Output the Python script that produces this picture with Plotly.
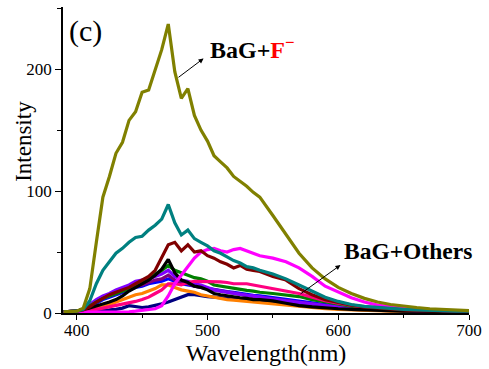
import plotly.graph_objects as go

wl = [390, 395, 400, 405, 410, 415, 420, 425, 430, 435, 440, 445, 450, 455, 460,
      465, 470, 475, 480, 485, 490, 495, 500, 505, 510, 515, 520, 525, 530, 535,
      540, 550, 560, 570, 580, 590, 600, 610, 620, 630, 640, 650, 660, 670, 680,
      690, 700]

bag_f = [1, 1, 1.5, 4, 20, 58, 95, 112, 131, 140, 158, 165, 181, 183, 199,
         216, 237, 198, 176, 184, 162, 150, 141, 129, 124, 119, 112, 108, 104, 99,
         95, 80, 65, 49, 37, 28, 21, 16, 12, 9, 7, 5.5, 4.5, 3.5, 3,
         2.5, 2]
teal = [1, 1, 1.5, 3, 10, 24, 35, 42, 49, 53, 58, 62, 63, 68, 72,
        77, 89, 74, 64, 68, 61, 58, 55, 51, 49, 46, 43, 41, 38, 37,
        35, 32, 28, 23, 18, 13, 9.5, 7, 5.5, 4.5, 3.5, 3, 2.5, 2, 2,
        1.5, 1.5]
maroon = [1, 1, 1.5, 2.5, 5, 9, 12, 15, 17, 19, 21, 24, 27, 30, 35,
          45, 56, 58, 51, 56, 50, 51, 47, 45, 42, 40, 37, 39, 36, 35,
          34, 30, 27, 20, 15, 11, 8.5, 6.5, 5, 4, 3, 2.5, 2, 2, 1.5,
          1.5, 1.5]
magenta = [0.5, 0.5, 0.5, 0.5, 0.5, 0.5, 0.5, 0.5, 0.8, 1, 1, 1.5, 2, 2.5, 3.5,
           6, 14, 24, 31, 37, 45, 50, 52, 53, 51, 50, 52, 53, 51, 49,
           47, 45, 42, 37, 30, 22, 17, 12.5, 9, 6.5, 5, 4, 3, 2.5, 2,
           2, 1.5]
pink = [0.5, 0.5, 1, 1.5, 2, 3, 4, 5, 6, 7, 8, 9.5, 11, 13, 16,
        19, 24, 24, 23, 25, 26, 26, 26, 26, 25.5, 25, 24, 24, 24, 23,
        22, 20, 18, 16, 13, 10, 8, 6, 4.5, 3.5, 3, 2.5, 2, 2, 1.5,
        1.5, 1.5]
green = [1, 1, 1.5, 3, 6, 9, 12, 14, 16, 18, 20, 22, 25, 28, 32,
         35, 39, 35, 33, 31, 29, 28, 26, 23, 22, 21, 20, 19, 18.5, 18,
         17, 16, 14.5, 13.5, 11, 9, 7, 5.5, 4, 3.5, 3, 2.5, 2, 2, 1.5,
         1.5, 1.5]
black = [1, 1, 1.5, 2.5, 4, 6, 7.5, 9, 11, 14, 18, 21, 24, 27, 31,
         36, 44, 33, 27, 25, 22, 21, 19, 16, 15, 14, 13, 12.5, 12, 11,
         11, 10, 8, 6, 5, 4, 3.5, 3, 2.5, 2, 2, 1.5, 1.5, 1.5, 1,
         1, 1]
violet = [1, 1, 1.5, 3, 7, 11, 14, 16, 19, 21, 23, 26, 27, 28, 30,
          32, 35, 30, 27, 26, 24, 23, 21, 19, 18, 17, 16, 15, 14.5, 14,
          13, 11.5, 10, 9, 7.5, 6, 5, 4, 3.5, 3, 2.5, 2, 2, 1.5, 1.5,
          1.5, 1.5]
purple = [1, 1, 1.5, 3, 6, 9, 12, 14, 16, 18, 20, 22, 23, 25, 27,
          28, 31, 27, 25, 24, 22, 21, 20, 19, 18, 17, 16, 15, 14, 13.5,
          13, 11.5, 10, 8.5, 7, 5.5, 4.5, 3.5, 3, 2.5, 2, 2, 1.5, 1.5, 1.5,
          1, 1]
blue = [1, 1, 1.5, 3, 5, 8, 11, 13, 15, 17, 19, 21, 22, 24, 25,
        26, 28, 26, 24, 23, 22, 21, 20, 19, 18, 17.5, 17, 16, 15, 14.5,
        14, 12.5, 11, 9.5, 8, 6.5, 5, 4, 3.5, 3, 2.5, 2, 2, 1.5, 1.5,
        1.5, 1.5]
orange = [1, 1, 1.5, 2, 3, 4, 5, 7, 9, 11, 13, 15, 16, 18, 20,
          23, 23, 21, 19, 18, 17, 15, 14, 12.5, 12, 11, 10.5, 10, 9, 8.5,
          8, 7, 6, 5, 4, 3.5, 3, 2.5, 2, 2, 1.5, 1.5, 1.5, 1, 1,
          1, 1]
navy = [1, 1, 1, 1, 1.5, 2, 2, 2.5, 3, 4, 6, 5.5, 4.5, 5, 6,
        7.5, 9, 11, 13, 15, 15, 14, 13.5, 13, 12.5, 12, 11.5, 11, 10.5, 10,
        9.5, 8.5, 7.5, 6.5, 5.5, 4.5, 3.5, 3, 2.5, 2, 2, 1.5, 1.5, 1.5, 1,
        1, 1]

series = [
    ("navy", navy, "#000080"),
    ("orange", orange, "#FF8000"),
    ("blue", blue, "#0000FF"),
    ("purple", purple, "#800080"),
    ("violet", violet, "#8000FF"),
    ("green", green, "#008000"),
    ("pink", pink, "#FF0080"),
    ("black", black, "#000000"),
    ("magenta", magenta, "#FF00FF"),
    ("maroon", maroon, "#800000"),
    ("teal", teal, "#008080"),
    ("BaG+F-", bag_f, "#808000"),
]

fig = go.Figure()
for name, vals, col in series:
    fig.add_trace(go.Scatter(x=wl, y=vals, mode="lines", name=name,
                             line=dict(color=col, width=3.2)))

font = "Liberation Serif, Times New Roman, serif"
fig.update_layout(
    width=489, height=369,
    margin=dict(l=63, r=16, t=7, b=56),
    paper_bgcolor="white", plot_bgcolor="white",
    showlegend=False,
    font=dict(family=font, color="black", size=17),
)
fig.update_xaxes(
    range=[389.5, 700], showgrid=False, zeroline=False,
    showline=True, linecolor="black", linewidth=1.5,
    ticks="outside", ticklen=5, tickwidth=1.2, tickcolor="black",
    tickvals=[400, 500, 600, 700],
    minor=dict(tickvals=[450, 550, 650], ticks="outside", ticklen=3,
               tickwidth=1.2, tickcolor="black"),
    tickfont=dict(size=17, family=font),
    ticklabelstandoff=-4,
    title=dict(text="Wavelength(nm)", font=dict(size=24, family=font), standoff=0),
)
fig.update_yaxes(
    range=[0, 251], showgrid=False, zeroline=False,
    showline=True, linecolor="black", linewidth=1.5,
    ticks="outside", ticklen=6, tickwidth=1.2, tickcolor="black",
    tickvals=[0, 100, 200],
    minor=dict(tickvals=[50, 150, 250], ticks="outside", ticklen=4,
               tickwidth=1.2, tickcolor="black"),
    tickfont=dict(size=17, family=font),
)

fig.add_annotation(text="Intensity", xref="paper", yref="paper",
                   x=-0.098, y=0.56, showarrow=False, textangle=-90,
                   font=dict(size=23, family=font), xanchor="center", yanchor="middle")
fig.add_annotation(text="(c)", xref="paper", yref="paper", x=0.01, y=0.922,
                   showarrow=False, xanchor="left", yanchor="middle",
                   font=dict(size=30, family=font))
fig.add_annotation(text="<b>BaG+<span style='color:red'>F<sup>−</sup></span></b>",
                   xref="paper", yref="paper", x=0.356, y=0.866,
                   showarrow=False, xanchor="left", yanchor="middle",
                   font=dict(size=24, family=font))
fig.add_annotation(text="<b>BaG+Others</b>", xref="paper", yref="paper",
                   x=0.686, y=0.203, showarrow=False, xanchor="left", yanchor="middle",
                   font=dict(size=23.5, family=font))
fig.add_annotation(text="", x=497, y=208.8, ax=476.7, ay=192.4,
                   xref="x", yref="y", axref="x", ayref="y", showarrow=True,
                   arrowhead=2, arrowsize=1, arrowwidth=1, arrowcolor="black")
fig.add_annotation(text="", x=601.7, y=39.3, ax=570, ay=14.8,
                   xref="x", yref="y", axref="x", ayref="y", showarrow=True,
                   arrowhead=2, arrowsize=1, arrowwidth=1, arrowcolor="black")

fig.write_html("out.html")
